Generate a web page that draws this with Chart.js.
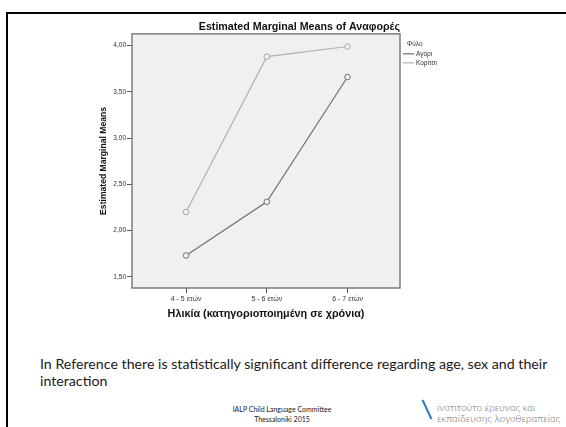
<!DOCTYPE html>
<html>
<head>
<meta charset="utf-8">
<script src="https://cdn.jsdelivr.net/npm/chart.js@4.4.0/dist/chart.umd.min.js"></script>
<style>
  body { margin: 0; width: 566px; height: 427px; background: #fff; position: relative; overflow: hidden; font-family: Lato, "Open Sans", sans-serif; }
  #frameTop { position: absolute; left: 6px; top: 12px; width: 560px; height: 2px; background: #000; }
  #frameLeft { position: absolute; left: 6px; top: 12px; width: 2px; height: 415px; background: #000; }
  #wrap { position: absolute; left: 30px; top: 0; width: 532px; height: 330px; }
  .note { position: absolute; left: 40px; top: 355px; font-size: 14.2px; line-height: 17px; color: #1a1a1a; }
  .footer { position: absolute; left: 182px; width: 200px; top: 404px; text-align: center; font-size: 7px; line-height: 10px; color: #222; }
  .logo { position: absolute; left: 437px; top: 402px; font-size: 10px; line-height: 11px; color: #6a6a6a; font-weight: 300; }
  .slash { position: absolute; left: 426px; top: 399px; width: 2px; height: 21px; background: #2b7cc0; transform: rotate(-25deg); }
</style>
</head>
<body>
<div id="frameTop"></div>
<div id="frameLeft"></div>
<div id="wrap"><canvas id="chart"></canvas></div>
<div class="note">In Reference there is statistically significant difference regarding age, sex and their<br>interaction</div>
<div class="footer">IALP Child Language Committee<br>Thessaloniki 2015</div>
<div class="slash"></div>
<div class="logo">ινστιτούτο έρευνας και<br>εκπαίδευσης λογοθεραπείας</div>
<script>
const ageLabels = ['4 - 5 ετών', '5 - 6 ετών', '6 - 7 ετών'];
const boys = [1.73, 2.31, 3.66];
const girls = [2.20, 3.88, 3.99];
const yTicks = [1.5, 2.0, 2.5, 3.0, 3.5, 4.0];
const seriesNames = ['Αγόρι', 'Κορίτσι'];

const sansFont = '"Liberation Sans", Arial, sans-serif';

// grey plot box like SPSS, plus the small legend on the right
const plotBox = {
    id: 'plotBox',
    beforeDatasetsDraw(chart) {
        const a = chart.chartArea, c = chart.ctx;
        c.save();
        c.fillStyle = '#f0f0f0';
        c.fillRect(a.left, a.top, a.right - a.left, a.bottom - a.top);
        c.strokeStyle = '#7c7c7c';
        c.lineWidth = 1.5;
        c.strokeRect(a.left, a.top, a.right - a.left, a.bottom - a.top);
        c.restore();
    },
    afterDraw(chart) {
        const a = chart.chartArea, c = chart.ctx;
        c.save();
        c.font = '6.5px ' + sansFont;
        c.fillStyle = '#333';
        c.textBaseline = 'middle';
        c.fillText('Φύλο', a.right + 7, a.top + 10);
        chart.data.datasets.forEach((ds, i) => {
            const y = a.top + 20 + i * 9;
            c.strokeStyle = ds.borderColor;
            c.lineWidth = 1.2;
            c.beginPath();
            c.moveTo(a.right + 3, y);
            c.lineTo(a.right + 14, y);
            c.stroke();
            c.fillText(ds.label, a.right + 16, y);
        });
        c.restore();
    }
};

const ctx = document.getElementById('chart').getContext('2d');
const chart = new Chart(ctx, {
    type: 'line',
    data: {
        datasets: [{
            label: seriesNames[0],
            data: boys.map((v, i) => ({ x: i, y: v })),
            borderColor: '#707070',
            borderWidth: 1.2,
            pointRadius: 2.8,
            pointBorderWidth: 1,
            pointBorderColor: '#707070',
            pointBackgroundColor: '#f0f0f0'
        }, {
            label: seriesNames[1],
            data: girls.map((v, i) => ({ x: i, y: v })),
            borderColor: '#b0b0b0',
            borderWidth: 1.2,
            pointRadius: 2.8,
            pointBorderWidth: 1,
            pointBorderColor: '#a8a8a8',
            pointBackgroundColor: '#f0f0f0'
        }]
    },
    options: {
        responsive: true,
        maintainAspectRatio: false,
        animation: false,
        layout: { padding: { left: 58, right: 162, top: 20, bottom: 8 } },
        plugins: {
            legend: { display: false },
            tooltip: { enabled: false },
            title: {
                display: true,
                align: 'end',
                text: 'Estimated Marginal Means of Αναφορές',
                color: '#111',
                font: { family: sansFont, size: 10.7, weight: 'bold' },
                padding: { top: 1, bottom: 0 }
            }
        },
        scales: {
            x: {
                type: 'linear',
                min: -0.67,
                max: 2.65,
                afterBuildTicks: s => { s.ticks = ageLabels.map((_, i) => ({ value: i })); },
                afterFit: s => { s.height = 34; },
                grid: { drawOnChartArea: false, tickLength: 5, color: '#555' },
                border: { display: false },
                ticks: {
                    autoSkip: false,
                    maxRotation: 0,
                    padding: 2,
                    color: '#333',
                    font: { family: sansFont, size: 7 },
                    callback: v => ageLabels[v]
                },
                title: {
                    display: true,
                    text: 'Ηλικία (κατηγοριοποιημένη σε χρόνια)',
                    color: '#111',
                    font: { family: sansFont, size: 10.8, weight: 'bold' },
                    padding: { top: 1, bottom: 1 }
                }
            },
            y: {
                min: 1.378,
                max: 4.127,
                afterBuildTicks: s => { s.ticks = yTicks.map(v => ({ value: v })); },
                afterFit: s => { s.width = 44; },
                grid: { drawOnChartArea: false, tickLength: 5, color: '#555' },
                border: { display: false },
                ticks: {
                    padding: 1,
                    color: '#333',
                    font: { family: sansFont, size: 6.5 },
                    callback: v => v.toFixed(2).replace('.', ',')
                },
                title: {
                    display: true,
                    text: 'Estimated Marginal Means',
                    color: '#111',
                    font: { family: sansFont, size: 8.6, weight: 'bold' },
                    padding: { top: 10, bottom: 4 }
                }
            }
        }
    },
    plugins: [plotBox]
});
</script>
</body>
</html>
